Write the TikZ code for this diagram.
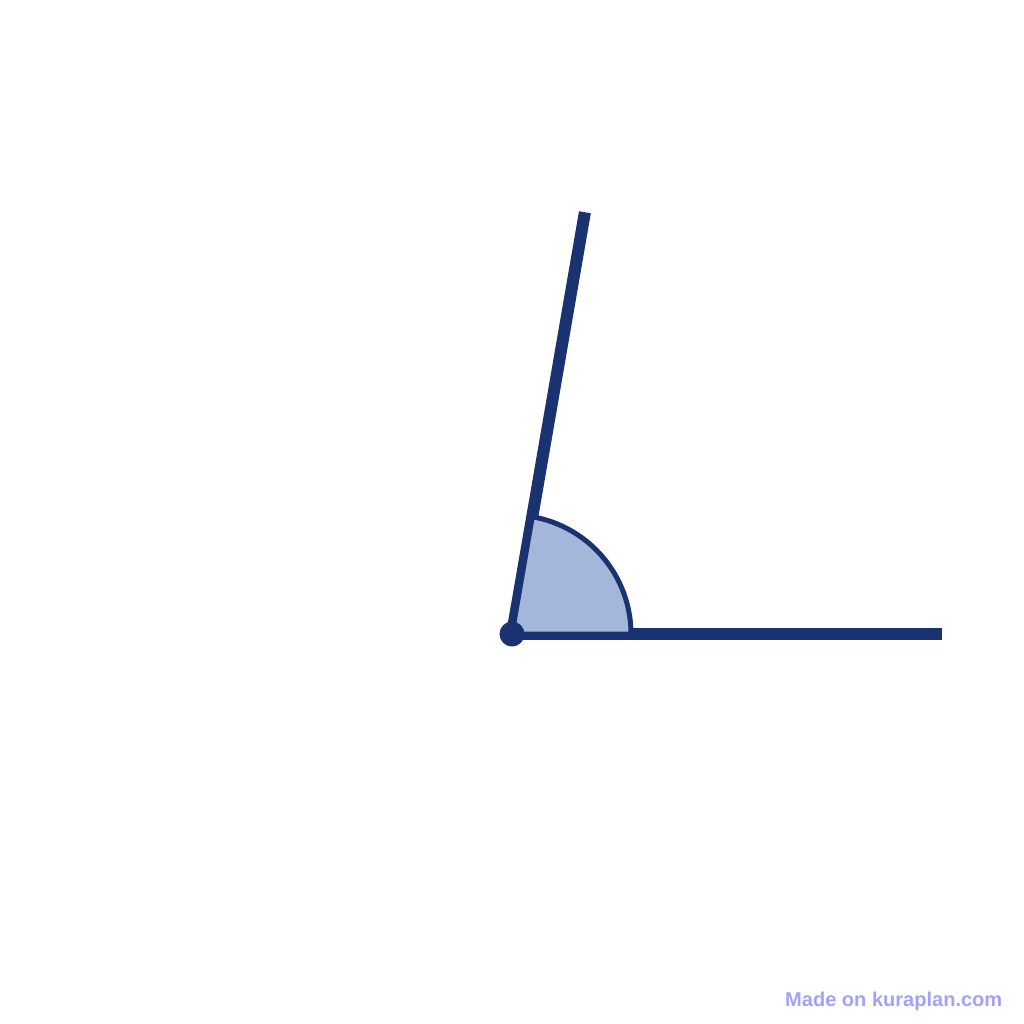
\documentclass[tikz,border=0pt]{standalone}
\usepackage{fontspec}
\setmainfont{Liberation Sans}
\usetikzlibrary{calc}
\begin{document}
\begin{tikzpicture}
  \definecolor{navy}{HTML}{1B3270}
  \definecolor{sectorfill}{HTML}{A4B6D9}
  \definecolor{markcolor}{HTML}{A2A2F7}
  \tikzstyle{ray} = [draw = navy, line width = 0.12cm, line cap = butt]
  \tikzstyle{sector} = [draw = navy, fill = sectorfill, line width = 0.05cm, line join = round]
  \tikzstyle{vertex_dot} = [circle, fill = navy, inner sep = 0pt, minimum size = 0.25cm]
  \tikzstyle{watermark} = [text = markcolor, font = \bfseries\fontsize{5.7pt}{6pt}\selectfont, inner sep = 0pt, anchor = base east]

  \useasboundingbox (0,0) rectangle (10.24,-10.24);

  \coordinate (vertex) at (5.12,-6.34);
  \coordinate (end_flat) at (9.42,-6.34);
  \coordinate (end_up) at ($(vertex)+(80.19:4.28)$);

  \draw[ray] (vertex) to (end_flat);
  \draw[ray] (vertex) to (end_up);
  \draw[sector] (vertex) -- ++(0:1.19) arc (0:80.19:1.19) -- cycle;
  \node [vertex_dot] at (vertex) (dot) {};

  \node [watermark] at (10.03,-10.06) (mark) {Made on kuraplan.com};
\end{tikzpicture}
\end{document}
